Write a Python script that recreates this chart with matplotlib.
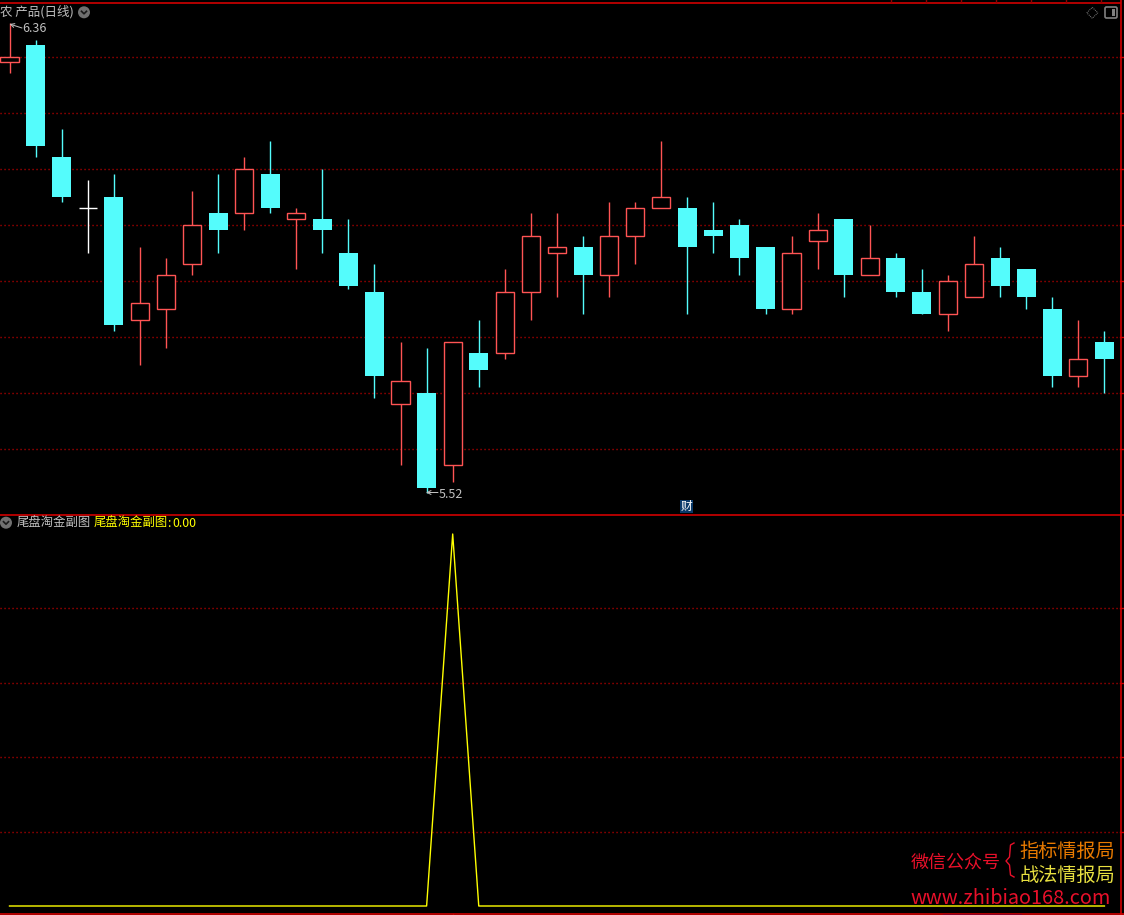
import numpy as np
import matplotlib
matplotlib.use('Agg')
import matplotlib.pyplot as plt
from matplotlib.patches import Rectangle, Circle, Polygon, FancyBboxPatch

plt.rcParams['font.family'] = ['Noto Sans CJK SC', 'DejaVu Sans']

# daily candles
opens = [6.29, 6.32, 6.12, 6.03, 6.05, 5.83, 5.85, 5.93, 6.02, 6.02, 6.09, 6.01, 6.01, 5.95, 5.88, 5.68, 5.70, 5.57, 5.77, 5.77, 5.88, 5.95,
         5.96, 5.91, 5.98, 6.03, 6.03, 5.99, 6.00, 5.96, 5.85, 5.97, 6.01, 5.91, 5.94, 5.88, 5.84, 5.87, 5.94, 5.92, 5.85, 5.73, 5.79]
highs = [6.36, 6.33, 6.17, 6.08, 6.09, 5.96, 5.94, 6.06, 6.09, 6.12, 6.15, 6.03, 6.10, 6.01, 5.93, 5.79, 5.78, 5.79, 5.83, 5.92, 6.02, 6.02,
         5.98, 6.04, 6.04, 6.15, 6.05, 6.04, 6.01, 5.96, 5.98, 6.02, 6.01, 6.00, 5.95, 5.92, 5.91, 5.98, 5.96, 5.92, 5.87, 5.83, 5.81]
lows = [6.27, 6.12, 6.04, 5.95, 5.81, 5.75, 5.78, 5.91, 5.95, 5.99, 6.02, 5.92, 5.95, 5.885, 5.69, 5.57, 5.52, 5.54, 5.71, 5.76, 5.83, 5.87,
        5.84, 5.87, 5.93, 6.03, 5.84, 5.95, 5.91, 5.84, 5.84, 5.92, 5.87, 5.91, 5.87, 5.84, 5.81, 5.87, 5.87, 5.85, 5.71, 5.71, 5.70]
closes = [6.30, 6.14, 6.05, 6.03, 5.82, 5.86, 5.91, 6.00, 5.99, 6.10, 6.03, 6.02, 5.99, 5.89, 5.73, 5.72, 5.53, 5.79, 5.74, 5.88, 5.98, 5.96,
          5.91, 5.98, 6.03, 6.05, 5.96, 5.98, 5.94, 5.85, 5.95, 5.99, 5.91, 5.94, 5.88, 5.84, 5.90, 5.93, 5.89, 5.87, 5.73, 5.76, 5.76]

price_grid = [6.3, 6.2, 6.1, 6.0, 5.9, 5.8, 5.7, 5.6]
signal_grid = [0.2, 0.4, 0.6, 0.8]
signal = [0] * 43
signal[17] = 1

W, H = 1124, 915
CYAN = '#54FCFC'
RED = '#FF5454'
LINE = '#D00000'
GRID = '#D00000'
GREY = '#C0C0C0'
PX = 1.0

fig = plt.figure(figsize=(W / 100, H / 100), dpi=100, facecolor='black')


def px_axes(left, top, right, bottom):
    a = fig.add_axes([left / W, 1 - bottom / H, (right - left) / W, (bottom - top) / H])
    a.set_facecolor('black')
    a.axis('off')
    return a


# x scale shared by both panels: 26.07px per bar, first bar at x=9.5
step = 26.07
xlim = (-9.5 / step, (1120 - 9.5) / step)

ax = px_axes(0, 3, 1120, 514)
ax.set_xlim(xlim)
ax.set_ylim(6.30 - (514 - 56.5) / 560, 6.30 - (3 - 56.5) / 560)

ax2 = px_axes(0, 515, 1120, 913)
ax2.set_xlim(xlim)
ax2.set_ylim((906 - 913) / 372, (906 - 515) / 372)

# grid sits a touch under the round prices
grid_ls = (0, (0.8, 2.08))
for g in price_grid:
    ax.plot(xlim, [g - 0.0009, g - 0.0009], color=GRID, lw=1, ls=grid_ls, zorder=1)
    ax.plot([xlim[1], xlim[1] + 4 / step], [g - 0.0009, g - 0.0009], color=LINE, lw=PX, clip_on=False)
for g in signal_grid:
    ax2.plot(xlim, [g, g], color=GRID, lw=1, ls=grid_ls, zorder=1)
    ax2.plot([xlim[1], xlim[1] + 4 / step], [g, g], color=LINE, lw=PX, clip_on=False)

# candles
bw = 0.70
for i in range(len(opens)):
    o, h, l, c = opens[i], highs[i], lows[i], closes[i]
    if o == c:
        ax.plot([i, i], [l, h], color='white', lw=PX, zorder=3, solid_capstyle='butt')
        ax.plot([i - bw / 2, i + bw / 2], [o, o], color='white', lw=PX, zorder=3, solid_capstyle='butt')
    elif c > o:
        ax.plot([i, i], [c, h], color=RED, lw=PX, zorder=3, solid_capstyle='butt')
        ax.plot([i, i], [l, o], color=RED, lw=PX, zorder=3, solid_capstyle='butt')
        ax.add_patch(Rectangle((i - bw / 2, o), bw, c - o, fc='black', ec=RED, lw=PX, zorder=3))
    else:
        ax.plot([i, i], [l, h], color=CYAN, lw=PX, zorder=3, solid_capstyle='butt')
        ax.add_patch(Rectangle((i - 0.365, c), 0.73, o - c, fc=CYAN, ec='none', zorder=4))

ax2.plot(range(len(signal)), signal, color='#FFFF00', lw=1, zorder=3)

# overlay in pixel coordinates for the frame and labels
ov = fig.add_axes([0, 0, 1, 1], facecolor='none')
ov.set_xlim(0, W)
ov.set_ylim(H, 0)
ov.axis('off')

ov.plot([0, 1120], [2.5, 2.5], color=LINE, lw=1.2)
ov.plot([1120.5, 1120.5], [0, 915], color=LINE, lw=1.2)
ov.plot([0, 1124], [514.5, 514.5], color=LINE, lw=1.2)
ov.plot([0, 1124], [913.5, 913.5], color=LINE, lw=1.2)
ov.plot([943, 1021], [914.5, 914.5], color='#0000C0', lw=PX)
for tx in np.arange(890, 1120, 35):
    ov.plot([tx + 0.5, tx + 0.5], [0, 2], color='#900000', lw=PX)
ov.plot([452.5, 452.5], [914, 915], color=LINE, lw=PX)

# header
ov.text(0, 12, '农 产品(日线)', color=GREY, fontsize=9, va='center', ha='left')
ov.add_patch(Circle((84, 12.3), 6, fc='#707070', ec='none'))
ov.plot([81.5, 84, 86.5], [11.3, 13.8, 11.3], color='#1a1a1a', lw=1.2)
ov.add_patch(Polygon([(1092.3, 7.3), (1097.8, 12.8), (1092.3, 18.3), (1086.8, 12.8)], fc='none', ec='#808080', lw=0.7, ls=(0, (1, 1))))
ov.add_patch(FancyBboxPatch((1106, 8), 10, 9, boxstyle='round,pad=1,rounding_size=1.5', fc='none', ec='#808080', lw=1.2))
ov.add_patch(Rectangle((1112, 9), 3, 7, fc='#808080', ec='none'))

# high / low marks
arrow = dict(arrowstyle='->', color=GREY, lw=0.72, mutation_scale=7, shrinkA=0, shrinkB=0)
ov.annotate('', xy=(9.5, 24), xytext=(22, 28), arrowprops=arrow)
ov.text(22.5, 29, '6.36', color=GREY, fontsize=9, va='center', ha='left')
ov.annotate('', xy=(426, 492.5), xytext=(438, 492.5), arrowprops=arrow)
ov.text(439, 494.5, '5.52', color=GREY, fontsize=9, va='center', ha='left')

# 财 badge
ov.add_patch(Rectangle((680, 500), 13, 13, fc='#0A3A6A', ec='none'))
ov.text(686.5, 506.5, '财', color='white', fontsize=8.5, va='center', ha='center')

# lower panel header
ov.add_patch(Circle((6, 522.7), 6, fc='#707070', ec='none'))
ov.plot([3.5, 6, 8.5], [521.7, 524.2, 521.7], color='#1a1a1a', lw=1.2)
ov.text(16.5, 523.3, '尾盘淘金副图', color=GREY, fontsize=8.9, va='center', ha='left')
ov.text(93.5, 523.3, '尾盘淘金副图', color='#FFFF00', fontsize=8.9, va='center', ha='left')
ov.text(167.5, 523.3, ':', color='#FFFF00', fontsize=8.9, va='center', ha='left')
ov.text(172.5, 523.3, '0.00', color='#FFFF00', fontsize=8.9, va='center', ha='left')

# watermark
ov.text(1000.5, 862.5, '微信公众号', color='#E8102A', fontsize=13, va='center', ha='right')
ov.plot([1014, 1010.5, 1009.5, 1006, 1009.5, 1010.5, 1014], [843, 845, 857, 861, 865, 875, 877], color='#E8102A', lw=1)
ov.text(1019.5, 851, '指标情报局', color='#E87A00', fontsize=13.8, va='center', ha='left')
ov.text(1019.5, 875.5, '战法情报局', color='#E8E040', fontsize=13.8, va='center', ha='left')
ov.text(1111, 899, 'www.zhibiao168.com', color='#E8102A', fontsize=14.3, va='center', ha='right')

fig.savefig('out.png', dpi=100, facecolor='black')
